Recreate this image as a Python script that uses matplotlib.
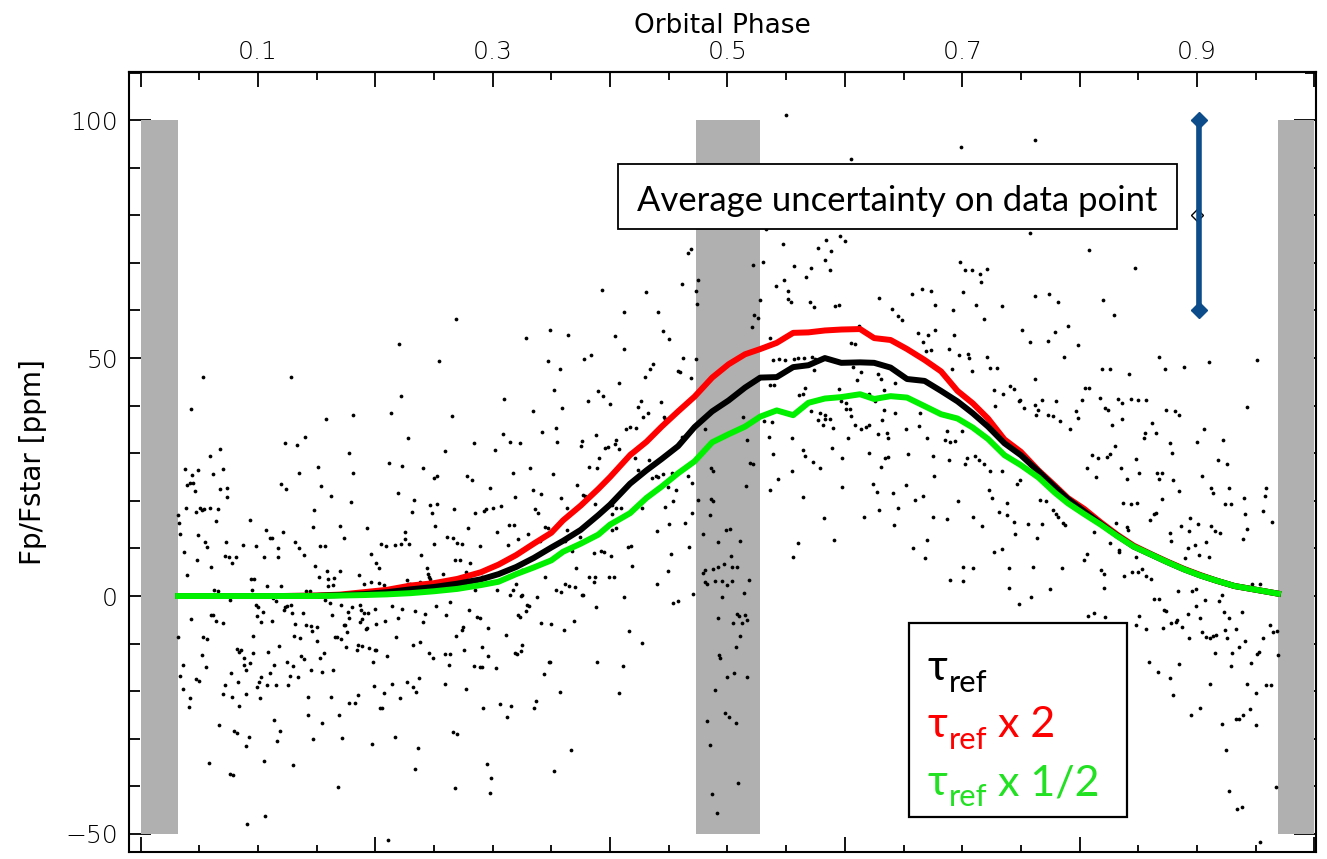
import matplotlib
matplotlib.use('Agg')
import matplotlib.pyplot as plt
import numpy as np
from matplotlib.patches import Rectangle
from matplotlib.ticker import MultipleLocator

plt.rcParams['font.family'] = 'DejaVu Sans'
plt.rcParams['font.weight'] = 'light'

# model curves (orbital phase vs Fp/Fstar in ppm)
model_phase = [0.032, 0.06, 0.09, 0.12, 0.15, 0.17, 0.19, 0.21, 0.23, 0.25, 0.27, 0.29, 0.305, 0.32, 0.335,
               0.35, 0.36, 0.375, 0.39, 0.40, 0.417, 0.431, 0.444, 0.458, 0.472, 0.487, 0.501, 0.515, 0.528,
               0.542, 0.556, 0.569, 0.583, 0.597, 0.613, 0.625, 0.639, 0.653, 0.668, 0.682, 0.696, 0.709,
               0.722, 0.736, 0.750, 0.765, 0.779, 0.79, 0.804, 0.818, 0.832, 0.846, 0.861, 0.875, 0.889,
               0.903, 0.917, 0.932, 0.946, 0.969]
tau_ref = [0, 0, 0, 0, 0.05, 0.2, 0.4, 0.8, 1.4, 1.9, 2.6, 3.5, 4.6, 6.1, 8.0, 10.2, 11.6, 13.9, 17.0, 19.2,
           23.6, 26.4, 28.8, 31.5, 35.5, 38.8, 41.1, 43.8, 45.9, 46.0, 48.1, 48.5, 50.0, 49.0, 49.1, 49.0,
           48.0, 45.6, 45.2, 43.1, 40.9, 38.4, 35.6, 32.1, 29.6, 26.2, 22.9, 20.4, 17.8, 15.2, 12.7, 10.4,
           8.7, 7.1, 5.6, 4.3, 3.2, 2.1, 1.5, 0.5]
tau_x2 = [0, 0, 0, 0, 0.1, 0.3, 0.8, 1.3, 2.2, 2.7, 3.6, 5.0, 6.6, 8.6, 11.0, 13.3, 15.9, 19.0, 22.5, 25.0,
          29.6, 32.4, 35.6, 38.8, 41.9, 45.9, 48.7, 50.8, 51.9, 53.2, 55.3, 55.4, 55.8, 56.0, 56.1, 54.2,
          53.8, 51.9, 49.6, 47.2, 43.1, 40.5, 37.3, 32.9, 30.3, 26.4, 23.2, 20.6, 18.3, 15.5, 12.9, 10.6,
          8.8, 7.2, 5.7, 4.4, 3.2, 2.1, 1.5, 0.5]
tau_half = [0, 0, 0, 0, 0, 0.1, 0.2, 0.35, 0.6, 1.0, 1.5, 2.3, 3.0, 4.6, 6.0, 7.5, 9.3, 11.0, 12.9, 15.0,
            17.4, 20.6, 23.0, 25.8, 28.3, 32.3, 34.0, 35.6, 37.7, 39.0, 38.0, 40.6, 41.5, 41.8, 42.4, 41.4,
            42.0, 41.7, 39.9, 38.2, 37.3, 35.4, 33.0, 29.6, 27.5, 24.9, 21.7, 19.5, 17.2, 15.0, 12.6, 10.4,
            8.7, 7.1, 5.6, 4.3, 3.2, 2.1, 1.5, 0.5]

# observed points (phase, ppm), split by phase range
obs_00_02 = [
    (0.053, 46.0), (0.128, 46.0), (0.043, 39.4), (0.158, 37.3), (0.181, 38.1), (0.140, 33.5), (0.123, 32.2),
    (0.133, 31.7), (0.178, 30.1), (0.068, 30.8), (0.059, 29.5), (0.038, 26.6), (0.049, 26.5), (0.070, 26.6),
    (0.044, 25.4), (0.062, 25.6), (0.151, 27.2), (0.181, 25.9), (0.040, 23.3), (0.042, 23.7), (0.045, 23.7),
    (0.046, 22.1), (0.068, 22.5), (0.074, 22.8), (0.120, 23.5), (0.124, 22.5), (0.135, 25.8), (0.154, 23.1),
    (0.162, 21.0), (0.074, 20.8), (0.179, 19.7), (0.032, 17.0), (0.039, 18.5), (0.047, 17.7), (0.051, 18.4),
    (0.052, 18.0), (0.054, 18.3), (0.059, 18.4), (0.066, 18.3), (0.033, 15.4), (0.064, 15.8), (0.034, 13.0),
    (0.049, 12.8), (0.093, 15.9), (0.148, 18.0), (0.147, 14.5), (0.170, 14.7), (0.193, 14.2), (0.121, 13.4),
    (0.107, 13.9), (0.110, 12.2), (0.112, 12.2), (0.173, 12.1), (0.055, 11.4), (0.057, 10.3), (0.073, 11.3),
    (0.087, 10.8), (0.098, 10.5), (0.132, 11.4), (0.135, 10.1), (0.153, 10.5), (0.157, 10.5), (0.037, 9.2),
    (0.072, 8.5), (0.075, 8.3), (0.081, 8.3), (0.078, 7.0), (0.117, 10.1), (0.105, 8.1), (0.117, 8.1),
    (0.139, 8.6), (0.196, 8.9), (0.048, 7.5), (0.060, 6.2), (0.149, 6.4), (0.170, 5.3), (0.159, 5.3),
    (0.040, 4.5), (0.094, 3.5), (0.097, 3.5), (0.152, 3.9), (0.160, 3.6), (0.165, 3.8), (0.164, 2.3),
    (0.160, 2.1), (0.186, 4.4), (0.190, 2.5), (0.196, 3.0), (0.063, 1.3), (0.066, 1.0), (0.095, 1.2),
    (0.108, 2.1), (0.120, 2.1), (0.141, 1.1), (0.144, 1.0), (0.076, -0.8), (0.115, -1.1), (0.113, -0.5),
    (0.157, -0.8), (0.161, -1.5), (0.171, -1.8), (0.098, -1.8), (0.100, -2.4), (0.122, -3.0), (0.123, -2.3),
    (0.125, -2.2), (0.128, -1.9), (0.129, -3.5), (0.138, -3.5), (0.104, -3.3), (0.177, -3.3), (0.180, -2.4),
    (0.187, -1.9), (0.190, -3.5), (0.188, -3.0), (0.200, -2.7), (0.194, -3.6), (0.163, -3.9), (0.060, -4.0),
    (0.062, -4.0), (0.043, -4.8), (0.064, -5.2), (0.070, -5.6), (0.099, -4.3), (0.103, -5.5), (0.112, -5.2),
    (0.178, -4.7), (0.173, -6.0), (0.174, -6.1), (0.187, -5.5), (0.189, -4.9), (0.132, -5.8), (0.141, -6.0),
    (0.145, -6.3), (0.150, -6.5), (0.146, -7.4), (0.192, -7.0), (0.193, -6.7), (0.176, -7.6), (0.032, -8.6),
    (0.053, -8.6), (0.057, -9.1), (0.096, -8.4), (0.131, -8.4), (0.136, -8.9), (0.150, -9.4), (0.166, -8.7),
    (0.167, -8.6), (0.171, -9.1), (0.185, -10.3), (0.189, -10.4), (0.184, -11.3), (0.195, -10.9),
    (0.200, -11.3), (0.175, -10.8), (0.082, -11.1), (0.084, -11.7), (0.086, -11.3), (0.052, -12.3),
    (0.096, -12.0), (0.109, -11.7), (0.118, -10.6), (0.137, -12.5), (0.139, -13.3), (0.156, -11.9),
    (0.153, -13.1), (0.198, -13.8), (0.036, -14.4), (0.056, -15.0), (0.088, -13.0), (0.093, -14.0),
    (0.088, -14.6), (0.090, -15.6), (0.125, -13.8), (0.130, -14.7), (0.114, -14.5), (0.145, -15.6),
    (0.164, -15.5), (0.034, -16.8), (0.047, -17.5), (0.050, -17.8), (0.077, -16.1), (0.103, -17.1),
    (0.101, -18.1), (0.110, -16.1), (0.127, -16.8), (0.134, -17.1), (0.155, -15.9), (0.036, -19.5),
    (0.072, -18.6), (0.083, -18.1), (0.099, -19.1), (0.108, -18.8), (0.115, -18.7), (0.126, -18.8),
    (0.042, -21.5), (0.041, -23.3), (0.070, -20.5), (0.078, -21.2), (0.090, -20.6), (0.102, -21.5),
    (0.143, -21.2), (0.162, -21.2), (0.084, -23.2), (0.178, -22.4), (0.183, -22.4), (0.185, -20.7),
    (0.199, -19.0), (0.143, -25.0), (0.169, -25.1), (0.067, -27.0), (0.155, -26.6), (0.114, -26.1),
    (0.080, -28.4), (0.082, -28.8), (0.119, -28.4), (0.116, -30.4), (0.092, -29.6), (0.090, -31.6),
    (0.147, -30.0), (0.172, -29.8), (0.197, -31.1), (0.058, -35.0), (0.105, -34.6), (0.130, -35.5),
    (0.076, -37.3), (0.079, -37.7), (0.168, -40.2), (0.106, -46.2), (0.091, -48.0)]
obs_02_04 = [
    (0.211, -51.3), (0.269, 58.2), (0.220, 52.9), (0.254, 49.3), (0.393, 64.4), (0.328, 54.3), (0.349, 55.8),
    (0.364, 54.8), (0.347, 49.3), (0.357, 47.8), (0.378, 49.9), (0.384, 50.7), (0.222, 42.1), (0.213, 38.5),
    (0.265, 37.9), (0.310, 41.4), (0.352, 43.3), (0.359, 39.5), (0.381, 41.0), (0.390, 43.0), (0.394, 42.1),
    (0.400, 40.4), (0.228, 33.2), (0.259, 30.5), (0.284, 32.2), (0.302, 30.7), (0.309, 34.0), (0.315, 32.3),
    (0.323, 32.1), (0.334, 38.9), (0.342, 34.4), (0.354, 35.3), (0.355, 32.3), (0.375, 31.6), (0.376, 32.5),
    (0.388, 33.8), (0.398, 31.3), (0.212, 28.0), (0.223, 27.4), (0.241, 26.8), (0.250, 24.8), (0.253, 25.2),
    (0.278, 25.2), (0.282, 24.4), (0.317, 25.9), (0.332, 26.8), (0.351, 25.6), (0.382, 27.2), (0.389, 26.8),
    (0.391, 29.0), (0.396, 31.2), (0.219, 21.7), (0.231, 17.6), (0.233, 20.2), (0.247, 19.2), (0.248, 17.4),
    (0.253, 19.4), (0.251, 14.7), (0.267, 18.3), (0.285, 17.4), (0.293, 17.9), (0.294, 18.2), (0.300, 18.4),
    (0.298, 22.6), (0.307, 18.9), (0.314, 15.0), (0.318, 15.0), (0.319, 20.9), (0.334, 22.2), (0.336, 18.3),
    (0.339, 17.5), (0.341, 21.5), (0.345, 14.5), (0.347, 14.3), (0.358, 20.7), (0.363, 18.6), (0.372, 23.3),
    (0.377, 21.2), (0.379, 21.0), (0.387, 19.4), (0.205, 10.9), (0.201, 7.0), (0.203, 5.8), (0.209, 10.5),
    (0.217, 10.7), (0.222, 10.9), (0.225, 13.4), (0.225, 12.0), (0.229, 11.0), (0.239, 8.6), (0.250, 10.9),
    (0.244, 5.8), (0.246, 4.1), (0.261, 12.4), (0.266, 12.2), (0.270, 11.2), (0.274, 10.9), (0.279, 14.3),
    (0.268, 7.6), (0.272, 7.5), (0.281, 7.0), (0.289, 10.6), (0.304, 13.5), (0.313, 10.7), (0.322, 12.0),
    (0.330, 13.0), (0.325, 5.5), (0.340, 11.5), (0.345, 4.1), (0.362, 11.5), (0.363, 13.8), (0.368, 9.5),
    (0.371, 5.8), (0.374, 12.4), (0.386, 9.1), (0.392, 9.4), (0.395, 9.3), (0.401, 8.4), (0.399, 3.9),
    (0.203, 2.8), (0.207, 2.3), (0.227, 3.3), (0.228, 2.6), (0.230, 2.6), (0.238, 3.0), (0.245, 4.7),
    (0.247, 3.5), (0.258, 4.6), (0.252, -2.2), (0.260, -4.0), (0.264, -1.3), (0.277, 5.1), (0.285, 1.3),
    (0.289, 3.5), (0.291, 4.0), (0.302, 4.4), (0.304, 1.3), (0.315, 0.2), (0.317, 1.3), (0.320, 2.5),
    (0.324, -0.1), (0.325, 0.2), (0.329, -1.9), (0.338, -0.3), (0.354, 1.2), (0.358, 0.8), (0.362, 2.5),
    (0.365, 2.0), (0.370, 1.8), (0.377, 0.3), (0.382, 3.9), (0.386, 2.9), (0.387, 3.9), (0.388, -2.4),
    (0.214, -2.1), (0.201, -5.8), (0.208, -5.2), (0.219, -4.7), (0.223, -2.7), (0.234, -3.2), (0.242, -3.8),
    (0.241, -5.5), (0.232, -10.3), (0.201, -11.4), (0.210, -12.7), (0.218, -8.6), (0.238, -9.6),
    (0.246, -12.0), (0.249, -13.0), (0.259, -12.1), (0.263, -14.6), (0.264, -12.1), (0.259, -18.5),
    (0.269, -8.4), (0.274, -7.2), (0.275, -6.6), (0.276, -11.3), (0.280, -3.0), (0.287, -4.5), (0.289, -4.6),
    (0.291, -10.8), (0.296, -6.7), (0.296, -12.6), (0.289, -15.0), (0.291, -15.0), (0.284, -14.8),
    (0.303, -15.2), (0.311, -8.2), (0.319, -11.9), (0.321, -12.2), (0.324, -11.6), (0.325, -10.3),
    (0.322, -4.0), (0.323, -4.5), (0.328, -3.2), (0.331, -2.2), (0.341, -5.6), (0.350, -5.8), (0.348, -13.9),
    (0.349, -13.8), (0.344, -16.3), (0.361, -7.1), (0.369, -5.3), (0.376, 0.3), (0.389, -13.8),
    (0.207, -20.3), (0.204, -23.6), (0.206, -23.5), (0.214, -18.4), (0.221, -21.4), (0.227, -18.0),
    (0.232, -19.2), (0.235, -20.2), (0.237, -17.2), (0.277, -19.5), (0.292, -23.6), (0.306, -22.7),
    (0.312, -25.5), (0.316, -23.2), (0.335, -23.5), (0.337, -22.0), (0.357, -20.1), (0.217, -29.7),
    (0.236, -32.0), (0.234, -36.3), (0.266, -28.6), (0.270, -28.9), (0.268, -40.4), (0.295, -35.3),
    (0.299, -38.2), (0.298, -41.3), (0.352, -36.7), (0.367, -32.4)]
obs_04_06 = [
    (0.550, 101.0), (0.469, 73.0), (0.466, 72.1), (0.475, 66.4), (0.473, 64.0), (0.474, 61.4), (0.461, 65.5),
    (0.431, 63.9), (0.441, 59.7), (0.412, 59.6), (0.404, 54.6), (0.445, 55.7), (0.450, 54.1), (0.412, 52.0),
    (0.408, 44.8), (0.437, 48.8), (0.434, 47.6), (0.430, 46.1), (0.462, 50.0), (0.458, 47.3), (0.460, 47.1),
    (0.469, 45.9), (0.473, 49.8), (0.426, 40.9), (0.424, 39.7), (0.414, 35.2), (0.417, 35.6), (0.422, 35.3),
    (0.428, 37.7), (0.432, 38.4), (0.443, 40.8), (0.446, 37.7), (0.447, 37.3), (0.461, 33.5), (0.463, 33.5),
    (0.481, 35.0), (0.404, 32.0), (0.405, 32.8), (0.408, 30.8), (0.417, 30.0), (0.421, 28.9), (0.424, 26.5),
    (0.429, 26.2), (0.433, 28.6), (0.436, 24.8), (0.439, 25.3), (0.441, 25.0), (0.445, 25.6), (0.449, 23.0),
    (0.453, 25.8), (0.466, 25.2), (0.470, 23.7), (0.486, 26.8), (0.488, 26.2), (0.513, 37.7), (0.517, 32.8),
    (0.516, 23.2), (0.519, 28.0), (0.522, 27.7), (0.522, 69.5), (0.528, 62.1), (0.521, 56.6), (0.523, 59.0),
    (0.526, 58.5), (0.530, 70.1), (0.533, 77.2), (0.541, 65.1), (0.547, 73.9), (0.548, 66.5), (0.552, 64.0),
    (0.552, 62.4), (0.554, 61.7), (0.557, 69.4), (0.567, 67.1), (0.571, 69.0), (0.570, 61.7), (0.574, 60.7),
    (0.577, 73.1), (0.583, 70.6), (0.584, 74.8), (0.587, 68.5), (0.588, 72.5), (0.592, 60.9), (0.595, 61.1),
    (0.596, 75.6), (0.600, 74.5), (0.536, 54.3), (0.539, 49.6), (0.544, 49.9), (0.549, 49.6), (0.557, 49.8),
    (0.560, 50.1), (0.565, 50.1), (0.572, 50.2), (0.575, 49.8), (0.574, 47.4), (0.566, 43.8), (0.561, 42.2),
    (0.564, 42.5), (0.571, 38.9), (0.579, 38.5), (0.583, 38.0), (0.577, 36.9), (0.581, 35.9), (0.587, 37.2),
    (0.583, 37.3), (0.595, 43.6), (0.597, 40.9), (0.601, 40.6), (0.601, 39.3), (0.590, 35.4), (0.536, 44.3),
    (0.540, 44.3), (0.531, 36.7), (0.535, 33.5), (0.538, 36.5), (0.555, 33.3), (0.539, 29.8), (0.543, 24.6),
    (0.555, 26.2), (0.564, 30.7), (0.566, 29.4), (0.573, 28.1), (0.579, 27.0), (0.589, 31.0), (0.598, 29.1),
    (0.598, 23.0), (0.564, 20.9), (0.536, 22.3), (0.582, 16.3), (0.591, 11.8), (0.560, 11.2), (0.556, 8.1),
    (0.402, 19.1), (0.405, 18.5), (0.402, 17.3), (0.409, 18.4), (0.405, 14.2), (0.402, 13.9), (0.415, 10.3),
    (0.418, 10.5), (0.419, 6.3), (0.403, 3.9), (0.412, -0.2), (0.416, -7.4), (0.427, -9.8), (0.411, -14.7),
    (0.408, -20.3), (0.427, 18.4), (0.440, 13.7), (0.447, 18.7), (0.450, 15.1), (0.454, 20.0), (0.456, 22.3),
    (0.464, 15.3), (0.470, 17.4), (0.467, 10.4), (0.452, 8.8), (0.449, 5.3), (0.440, 2.5), (0.454, -1.4),
    (0.458, -1.1), (0.471, 0.5), (0.475, 20.2), (0.479, 13.0), (0.486, 20.4), (0.488, 20.0), (0.485, 17.0),
    (0.492, 11.4), (0.499, 13.9), (0.502, 14.1), (0.503, 8.4), (0.511, 11.5), (0.481, 5.5), (0.479, 4.8),
    (0.488, 5.7), (0.489, 3.2), (0.492, 6.2), (0.497, 6.8), (0.504, 6.2), (0.508, 6.2), (0.481, 3.0),
    (0.483, 2.5), (0.495, 3.2), (0.500, 2.3), (0.504, 3.2), (0.518, 3.4), (0.514, 0.6), (0.495, -0.2),
    (0.492, -4.7), (0.508, -3.7), (0.510, -4.2), (0.512, -5.6), (0.515, -3.9), (0.517, -5.0), (0.505, -5.6),
    (0.511, -8.5), (0.507, -10.8), (0.493, -12.4), (0.494, -13.1), (0.500, -17.1), (0.506, -16.1),
    (0.517, -17.1), (0.489, -19.8), (0.483, -26.3), (0.498, -24.5), (0.501, -25.4), (0.507, -26.6),
    (0.485, -31.4), (0.509, -39.3), (0.487, -41.7), (0.491, -45.7)]
obs_06_08 = [
    (0.605, 91.8), (0.699, 94.3), (0.762, 95.9), (0.758, 76.3), (0.698, 70.1), (0.702, 68.5), (0.708, 68.5),
    (0.715, 67.7), (0.716, 66.0), (0.721, 68.7), (0.701, 63.8), (0.712, 61.2), (0.734, 61.0), (0.657, 63.4),
    (0.666, 64.6), (0.673, 64.2), (0.677, 61.1), (0.629, 62.6), (0.640, 60.4), (0.645, 58.8), (0.649, 57.9),
    (0.692, 60.1), (0.719, 58.2), (0.762, 63.0), (0.774, 63.4), (0.782, 61.8), (0.790, 56.8), (0.799, 52.7),
    (0.751, 55.8), (0.758, 53.4), (0.773, 53.5), (0.779, 55.5), (0.612, 56.7), (0.605, 53.2), (0.609, 52.9),
    (0.662, 55.2), (0.667, 53.3), (0.671, 54.8), (0.677, 55.8), (0.693, 54.8), (0.669, 51.4), (0.673, 51.6),
    (0.689, 52.0), (0.697, 50.7), (0.705, 50.9), (0.706, 50.0), (0.691, 47.8), (0.708, 47.3), (0.721, 50.3),
    (0.724, 47.9), (0.730, 47.9), (0.727, 43.3), (0.728, 39.9), (0.735, 42.4), (0.741, 44.2), (0.744, 43.6),
    (0.748, 41.0), (0.749, 41.2), (0.753, 39.5), (0.762, 40.1), (0.765, 39.1), (0.773, 38.0), (0.777, 37.9),
    (0.780, 41.0), (0.783, 36.8), (0.792, 35.2), (0.797, 38.9), (0.799, 37.5), (0.802, 41.2), (0.762, 45.6),
    (0.763, 38.0), (0.768, 41.2), (0.787, 50.3), (0.607, 48.1), (0.614, 47.1), (0.610, 45.4), (0.628, 46.6),
    (0.631, 45.6), (0.633, 43.3), (0.643, 44.8), (0.616, 42.3), (0.621, 42.5), (0.626, 40.9), (0.633, 39.0),
    (0.643, 38.4), (0.604, 39.2), (0.605, 37.8), (0.609, 35.9), (0.614, 35.1), (0.618, 35.6), (0.621, 36.0),
    (0.628, 34.1), (0.632, 37.0), (0.636, 34.2), (0.637, 33.3), (0.603, 33.3), (0.621, 30.0), (0.631, 27.1),
    (0.634, 29.0), (0.637, 29.3), (0.652, 35.2), (0.654, 29.8), (0.663, 35.7), (0.664, 38.4), (0.670, 33.1),
    (0.675, 29.4), (0.685, 32.7), (0.687, 34.7), (0.690, 32.3), (0.694, 32.6), (0.689, 28.6), (0.700, 34.7),
    (0.704, 29.1), (0.711, 29.4), (0.714, 28.6), (0.702, 27.8), (0.719, 27.8), (0.724, 26.3), (0.723, 22.2),
    (0.725, 20.6), (0.734, 26.3), (0.738, 19.5), (0.744, 15.6), (0.747, 23.6), (0.749, 24.4), (0.738, 17.0),
    (0.758, 27.6), (0.766, 20.2), (0.771, 20.0), (0.777, 18.1), (0.780, 17.3), (0.782, 16.6), (0.786, 15.4),
    (0.788, 15.0), (0.756, 15.2), (0.768, 15.2), (0.764, 12.1), (0.745, 13.0), (0.731, 17.6), (0.734, 9.9),
    (0.727, 9.3), (0.740, 5.9), (0.748, -1.6), (0.759, -0.3), (0.760, 6.2), (0.740, 1.6), (0.775, 1.4),
    (0.785, 5.9), (0.709, 5.8), (0.701, 6.2), (0.690, 3.4), (0.701, 3.2), (0.717, 14.8), (0.709, 16.7),
    (0.696, 20.0), (0.687, 16.2), (0.675, 16.5), (0.670, 11.7), (0.668, 8.0), (0.658, 10.0), (0.645, 18.5),
    (0.642, 15.0), (0.629, 18.0), (0.616, 16.5), (0.624, 23.5), (0.627, 21.9), (0.652, 23.3), (0.660, 20.2),
    (0.667, 21.0), (0.676, 25.2), (0.641, 21.7)]
obs_08_10 = [
    (0.808, 72.7), (0.847, 69.0), (0.820, 62.2), (0.829, 59.0), (0.868, 50.3), (0.873, 47.8), (0.889, 48.2),
    (0.910, 49.1), (0.951, 49.6), (0.819, 47.8), (0.826, 47.8), (0.842, 46.7), (0.943, 39.7), (0.805, 43.8),
    (0.808, 43.8), (0.817, 41.7), (0.822, 39.6), (0.824, 39.1), (0.833, 41.4), (0.836, 40.6), (0.844, 41.4),
    (0.850, 41.2), (0.857, 41.2), (0.874, 39.0), (0.881, 38.8), (0.885, 38.1), (0.862, 36.4), (0.856, 34.3),
    (0.855, 33.3), (0.865, 34.3), (0.836, 37.3), (0.828, 35.9), (0.830, 31.5), (0.877, 32.2), (0.879, 30.1),
    (0.906, 35.2), (0.900, 32.4), (0.922, 32.7), (0.918, 28.5), (0.926, 27.7), (0.811, 29.6), (0.816, 29.1),
    (0.806, 26.8), (0.814, 25.1), (0.823, 29.3), (0.826, 29.9), (0.835, 26.9), (0.840, 24.6), (0.848, 28.8),
    (0.851, 25.8), (0.866, 25.8), (0.870, 25.9), (0.868, 24.6), (0.880, 24.4), (0.885, 22.1), (0.904, 25.2),
    (0.912, 22.8), (0.914, 21.7), (0.927, 22.8), (0.940, 20.7), (0.959, 22.6), (0.958, 21.0), (0.956, 17.9),
    (0.964, 15.6), (0.941, 17.2), (0.943, 14.1), (0.939, 12.0), (0.924, 19.4), (0.929, 19.3), (0.920, 13.2),
    (0.912, 14.7), (0.915, 13.7), (0.908, 11.3), (0.901, 15.1), (0.894, 16.3), (0.893, 13.6), (0.898, 10.7),
    (0.892, 10.1), (0.886, 14.7), (0.890, 7.9), (0.902, 8.6), (0.910, 8.2), (0.878, 11.5), (0.877, 13.2),
    (0.870, 20.4), (0.863, 17.2), (0.865, 17.5), (0.860, 16.0), (0.849, 19.5), (0.844, 19.4), (0.837, 19.5),
    (0.831, 15.4), (0.841, 13.8), (0.840, 14.4), (0.834, 9.7), (0.834, 9.2), (0.826, 11.1), (0.848, 8.1),
    (0.850, 5.1), (0.857, 4.3), (0.853, 5.6), (0.861, 3.6), (0.845, 5.0), (0.838, 4.2), (0.821, 4.6),
    (0.818, 5.5), (0.804, 7.6), (0.806, 8.8), (0.812, 13.4), (0.821, 1.7), (0.812, -3.5), (0.822, -4.5),
    (0.851, -4.2), (0.859, -13.8), (0.867, -15.9), (0.863, -0.7), (0.868, -0.6), (0.871, -6.8), (0.872, -2.9),
    (0.874, -3.1), (0.878, -5.6), (0.883, -5.1), (0.882, -5.4), (0.884, 1.0), (0.887, -6.6), (0.892, -3.8),
    (0.885, -14.2), (0.877, -17.3), (0.880, -20.8), (0.893, -8.8), (0.896, 1.0), (0.899, 1.4), (0.899, -2.1),
    (0.903, -4.7), (0.904, -7.6), (0.908, -8.7), (0.911, -8.9), (0.907, -0.8), (0.914, -8.5), (0.916, -8.2),
    (0.915, -11.9), (0.919, -1.1), (0.921, 0.2), (0.923, -3.3), (0.927, -4.7), (0.926, -8.9), (0.924, -7.1),
    (0.930, -11.9), (0.929, -14.8), (0.933, -6.9), (0.936, -10.8), (0.938, -3.3), (0.941, -9.5),
    (0.943, -18.5), (0.946, -14.0), (0.950, -20.3), (0.951, -12.2), (0.953, -11.7), (0.954, 2.5), (0.947, 2.5),
    (0.956, -8.9), (0.962, -6.1), (0.965, -7.6), (0.968, -7.4), (0.959, -18.7), (0.963, -18.7),
    (0.969, -12.4), (0.911, -18.5), (0.895, -25.0), (0.903, -23.6), (0.921, -26.8), (0.933, -25.8),
    (0.936, -25.8), (0.939, -25.0), (0.945, -23.7), (0.950, -27.1), (0.925, -32.4), (0.927, -41.0),
    (0.934, -44.8), (0.938, -44.4), (0.967, -40.2), (0.954, -51.7), (0.857, -6.9), (0.848, -6.1),
    (0.807, -4.2)]

# masked phase ranges (transits / eclipse) and their vertical extent
masked_ranges = [(0.0, 0.032), (0.473, 0.528), (0.969, 1.0)]
mask_low, mask_high = -50, 100

# average error bar shown top right
err_phase = 0.9
bar_phase = 0.902
err_center = 80
err_half = 20

top_ticks = [0.0, 0.1, 0.2, 0.3, 0.4, 0.5, 0.6, 0.7, 0.8, 0.9, 1.0]
top_labels = ['', '0.1', '', '0.3', '', '0.5', '', '0.7', '', '0.9', '']

LEG_FONT = ['Lato', 'DejaVu Sans']
GREEN = '#00f000'
BLUE = '#0d4c8b'

fig = plt.figure(figsize=(13.27, 8.59), dpi=100)
ax = fig.add_axes([0.0974, 0.0081, 0.8943, 0.9080])

# gray masks sit above the tick marks but below the points
for x0, x1 in masked_ranges:
    ax.add_patch(Rectangle((x0, mask_low), x1 - x0, mask_high - mask_low, facecolor='#b0b0b0',
                           edgecolor='none', zorder=2))

for seg in [obs_00_02, obs_02_04, obs_04_06, obs_06_08, obs_08_10]:
    pts = np.array(seg)
    ax.plot(pts[:, 0], pts[:, 1], 'o', ms=2.7, mew=0, color='black', zorder=3)

ax.plot(model_phase, tau_x2, color='red', lw=4.3, zorder=4)
ax.plot(model_phase, tau_ref, color='black', lw=4.3, zorder=4)
ax.plot(model_phase, tau_half, color=GREEN, lw=4.3, zorder=4)

# error bar: thin black one underneath, thick blue one on top
ax.errorbar([err_phase], [err_center], yerr=[err_half], fmt='none', ecolor='black', elinewidth=1,
            capsize=4, capthick=1, zorder=4)
ax.plot([err_phase], [err_center], marker='D', ms=6, mfc='white', mec='black', mew=1, zorder=4)
ax.plot([bar_phase, bar_phase], [err_center - err_half, err_center + err_half], color=BLUE, lw=4,
        marker='D', ms=8, zorder=5)

ax.set_xlim(-0.0096, 1.0014)
ax.set_ylim(-53.8, 110.1)

ax.xaxis.set_major_locator(MultipleLocator(0.2))
ax.xaxis.set_minor_locator(MultipleLocator(0.05))
ax.yaxis.set_major_locator(MultipleLocator(50))
ax.yaxis.set_minor_locator(MultipleLocator(10))
ax.tick_params(which='both', direction='in', left=True, right=True, bottom=True, top=False,
               labelbottom=False, width=1.3)
ax.tick_params(axis='y', which='major', length=15.8, pad=8, labelsize=18)
ax.tick_params(axis='y', which='minor', length=7.9)
ax.tick_params(axis='x', which='major', length=10.8)
ax.tick_params(axis='x', which='minor', length=5.4)
for sp in ax.spines.values():
    sp.set_linewidth(1.5)

sec = ax.secondary_xaxis('top')
sec.set_xticks(top_ticks, top_labels)
sec.xaxis.set_minor_locator(MultipleLocator(0.05))
sec.tick_params(which='both', direction='in', width=1.3)
sec.tick_params(which='major', length=10.8, pad=5.5, labelsize=18)
sec.tick_params(which='minor', length=5.4)
sec.spines['top'].set_linewidth(1.5)
sec.set_xlabel('Orbital Phase', fontsize=19, labelpad=5)

ax.set_ylabel('Fp/Fstar [ppm]', fontsize=20)
ax.yaxis.set_label_coords(-0.069, 0.5)

# uncertainty note
ax.add_patch(Rectangle((0.4118, 0.7987), 0.4711, 0.0833, transform=ax.transAxes, facecolor='white',
                       edgecolor='black', lw=1.3, zorder=6))
note = ax.text(0.647, 0.8218, 'Average uncertainty on data point', transform=ax.transAxes, ha='center',
               va='baseline', fontsize=24, family='Lato', fontweight='normal', zorder=7)

# legend box with tau labels
ax.add_patch(Rectangle((0.657, 0.0449), 0.1837, 0.2487, transform=ax.transAxes, facecolor='white',
                       edgecolor='black', lw=1.6, zorder=6))


def tau_label(y, suffix, color, size=31):
    t = ax.text(0.673, y, 'τ', transform=ax.transAxes, fontsize=size, color=color, family=LEG_FONT,
                fontweight='normal', va='baseline', zorder=7)
    sub = ax.annotate('ref', xy=(1, 0), xycoords=t, xytext=(0.5, -0.22 * size), textcoords='offset points',
                      fontsize=size * 0.72, color=color, family=LEG_FONT, fontweight='normal', va='bottom',
                      zorder=7)
    if suffix:
        ax.annotate(suffix, xy=(1, 0), xycoords=(sub, t), fontsize=size, color=color, family=LEG_FONT,
                    fontweight='normal', va='bottom', zorder=7)


tau_label(0.2205, '', 'black')
tau_label(0.1474, ' x 2', 'red')
tau_label(0.0731, ' x 1/2', '#22e022')

# fit the note text to the width it has in the box
fig.canvas.draw()
bb = note.get_window_extent()
note.set_fontsize(note.get_fontsize() * 520 / bb.width)

fig.savefig('out.png', dpi=100)
